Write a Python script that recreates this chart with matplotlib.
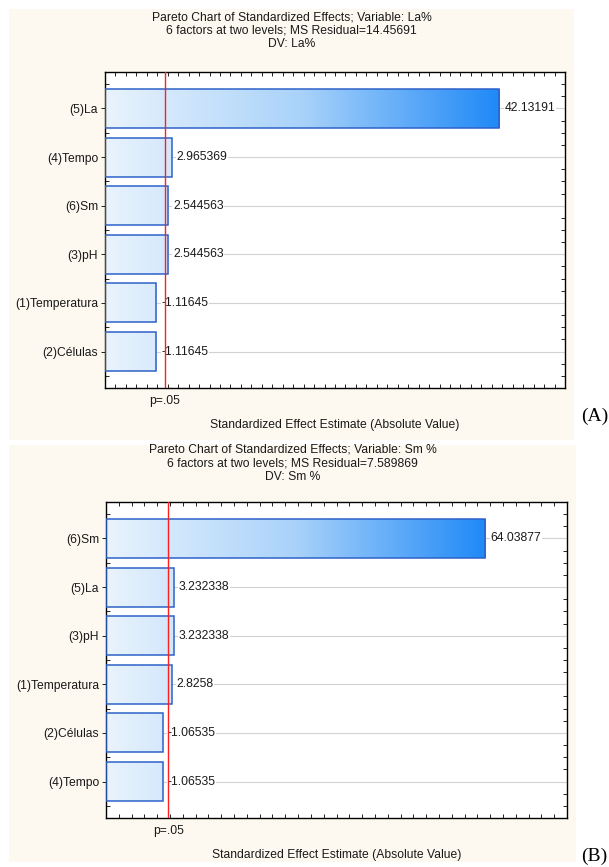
import numpy as np
import matplotlib
matplotlib.use("Agg")
import matplotlib.pyplot as plt
from matplotlib.colors import LinearSegmentedColormap
from matplotlib.patches import Rectangle
from matplotlib.ticker import MultipleLocator

# --- data -------------------------------------------------------------
la_factors = ["(5)La", "(4)Tempo", "(6)Sm", "(3)pH", "(1)Temperatura", "(2)Células"]
la_effects = [42.13191, 2.965369, 2.544563, 2.544563, -1.11645, -1.11645]
la_title = ["Pareto Chart of Standardized Effects; Variable: La%",
            "6 factors at two levels; MS Residual=14.45691",
            "DV: La%"]

sm_factors = ["(6)Sm", "(5)La", "(3)pH", "(1)Temperatura", "(2)Células", "(4)Tempo"]
sm_effects = [64.03877, 3.232338, 3.232338, 2.8258, -1.06535, -1.06535]
sm_title = ["Pareto Chart of Standardized Effects; Variable: Sm %",
            "6 factors at two levels; MS Residual=7.589869",
            "DV: Sm %"]

t_crit = 2.145  # p=.05 reference line
x_label = "Standardized Effect Estimate (Absolute Value)"

# --- style ------------------------------------------------------------
W, H = 609, 867
BEIGE = "#fdf9f0"
EDGE = "#2d62c9"
TXT = "#1a1a1a"
FS = 8.7
plt.rcParams["font.family"] = ["Liberation Sans", "DejaVu Sans"]
cmap = LinearSegmentedColormap.from_list(
    "bar", [(0, "#e9f3fd"), (0.5, "#a9d2fa"), (1, "#1f89f7")])

fig = plt.figure(figsize=(W / 100, H / 100), dpi=100)


def fx(x):
    return x / W


def fy(y):
    return 1 - y / H


def pareto(bg, ax_px, title, title_y, factors, effects, xlim, step, tag, tag_y):
    x0, y0, x1, y1 = bg
    fig.patches.append(Rectangle((fx(x0), fy(y1)), fx(x1 - x0), (y1 - y0) / H,
                                 transform=fig.transFigure, facecolor=BEIGE,
                                 edgecolor="none", zorder=-5))
    l, t, r, b = ax_px
    ax = fig.add_axes([fx(l), fy(b), fx(r - l), (b - t) / H])
    ax.set_zorder(2)

    cx = (x0 + x1) / 2
    for k, line in enumerate(title):
        fig.text(fx(cx), fy(title_y + 13.6 * k), line, ha="center", va="center",
                 fontsize=FS, color=TXT)

    xlo = xlim[0]
    vmax = max(abs(v) for v in effects)
    for i, v in enumerate(effects):
        a = abs(v)
        frac = (a - xlo) / (vmax - xlo)
        grad = np.linspace(0, frac, 256).reshape(1, -1)
        ax.imshow(grad, cmap=cmap, vmin=0, vmax=1, aspect="auto",
                  extent=(xlo, a, i + 0.4, i - 0.4), zorder=2,
                  interpolation="bilinear")
        ax.add_patch(Rectangle((xlo, i - 0.4), a - xlo, 0.8, fill=False,
                               edgecolor=EDGE, lw=1.1, zorder=3))
        ax.annotate(f"{v:.7g}", (a, i), xytext=(3.6, 0), textcoords="offset points",
                    ha="left", va="center", fontsize=FS, color=TXT, zorder=5,
                    bbox=dict(boxstyle="square,pad=0.05", fc="white", ec="none"))

    # significance line sits on top of everything, labels included
    ax.axvline(t_crit, color="#ff1f1f", lw=1, zorder=6)
    ax.set_xlim(*xlim)
    ax.set_ylim(len(effects) - 0.25, -0.75)

    ax.grid(axis="y", which="major", color="#d2d2d2", lw=0.8)
    ax.set_axisbelow(True)

    ax.set_yticks(range(len(factors)), factors)
    ax.yaxis.set_minor_locator(MultipleLocator(0.25))
    ax.set_xticks([t_crit], ["p=.05"])
    ax.xaxis.set_minor_locator(MultipleLocator(step))
    ax.tick_params(axis="y", which="major", direction="out", length=3, width=0.6,
                   labelsize=FS, labelcolor=TXT, pad=2)
    ax.tick_params(axis="y", which="minor", direction="in", length=3, width=0.6,
                   left=True, right=True)
    ax.tick_params(axis="x", which="major", length=0, labelsize=FS,
                   labelcolor=TXT, pad=5)
    ax.tick_params(axis="x", which="minor", direction="in", length=3, width=0.6,
                   top=True, bottom=True)
    for s in ax.spines.values():
        s.set_linewidth(1)
        s.set_color("black")

    fig.text(fx((l + r) / 2), fy(b + 37), x_label, ha="center", va="center",
             fontsize=FS, color=TXT)
    fig.text(fx(581), fy(tag_y), tag, ha="left", va="baseline",
             fontsize=14, family="Liberation Serif", color="black")
    return ax


pareto((9, 9, 574, 440), (105, 72, 565, 388), la_title, 17, la_factors, la_effects,
       (-5, 50), 1.25, "(A)", 421)
pareto((9, 445, 576, 862), (106, 502, 567, 818), sm_title, 450, sm_factors, sm_effects,
       (-10, 80), 2.5, "(B)", 861)

fig.savefig("out.png", dpi=100, facecolor="white")
